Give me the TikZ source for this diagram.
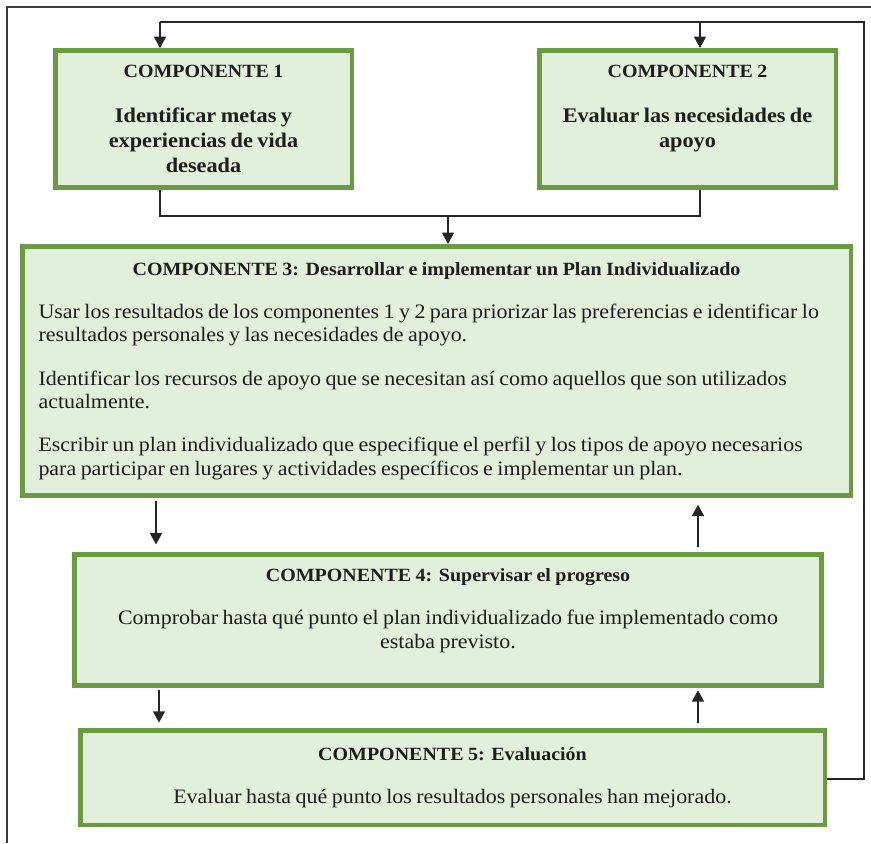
\documentclass[tikz,border=0pt]{standalone}
\usepackage{fontspec}
\setmainfont{Liberation Serif}[FakeStretch=1.07]
\usetikzlibrary{arrows.meta}
\definecolor{boxgreen}{RGB}{106,154,66}
\definecolor{boxfill}{RGB}{226,239,218}
\definecolor{framegray}{RGB}{60,60,60}
\definecolor{txt}{RGB}{30,30,30}
\newcommand\tsz{\fontsize{14}{17.5}\selectfont}
\newcommand\bsz{\fontsize{15.6}{18.8}\selectfont}
\newcommand\rsz{\fontsize{15.4}{17.5}\selectfont}
\newcommand\gap{\par\vspace{15pt}}
\tikzset{
  box/.style={draw=boxgreen, fill=boxfill, line width=3.4pt, inner sep=0pt, text=txt, align=center},
  conn/.style={draw=black!85, line width=1.1pt},
  arr/.style={conn, -{Triangle[length=8.5pt,width=9pt]}},
  frame/.style={draw=framegray, line width=1.4pt}
}
\begin{document}
\begin{tikzpicture}[x=0.75pt,y=-0.75pt]
\useasboundingbox (0,0) rectangle (871,843);
% page frame (top and left edges)
\coordinate (ftr) at (871,7);
\coordinate (ftl) at (7,7);
\coordinate (fbl) at (7,843);
\draw[frame] (ftr) -- (ftl) -- (fbl);

\node[box, minimum width=222.4pt, minimum height=103.1pt, text width=215pt] (c1) at (203.5,119)
  {\tsz\textbf{COMPONENTE 1}\gap
   \bsz\textbf{Identificar metas y\\experiencias de vida\\deseada}\par};
\node[box, minimum width=222.4pt, minimum height=103.1pt, text width=215pt] (c2) at (687.5,119)
  {\tsz\textbf{COMPONENTE 2}\gap
   \bsz\textbf{Evaluar las necesidades de\\apoyo}\\\mbox{}\par};
\node[box, minimum width=621.4pt, minimum height=187.1pt, text width=597pt, align=left] (c3) at (436.5,371)
  {{\centering\tsz\textbf{COMPONENTE 3: Desarrollar e implementar un Plan Individualizado}\par}
   \vspace{15pt}
   \rsz\mbox{Usar los resultados de los componentes 1 y 2 para priorizar las preferencias e identificar lo}\\
   \mbox{resultados personales y las necesidades de apoyo.}\gap
   \mbox{Identificar los recursos de apoyo que se necesitan así como aquellos que son utilizados}\\
   \mbox{actualmente.}\gap
   \mbox{Escribir un plan individualizado que especifique el perfil y los tipos de apoyo necesarios}\\
   \mbox{para participar en lugares y actividades específicos e implementar un plan.}\par};
\node[box, minimum width=560.6pt, minimum height=97.9pt, text width=545pt] (c4) at (448,620)
  {\tsz\textbf{COMPONENTE 4: Supervisar el progreso}\gap
   \rsz Comprobar hasta qué punto el plan individualizado fue implementado como\\
   estaba previsto.\\\mbox{}\par};
\node[box, minimum width=558.4pt, minimum height=70.9pt, text width=545pt] (c5) at (452.5,777.5)
  {\tsz\textbf{COMPONENTE 5: Evaluación}\gap
   \rsz Evaluar hasta qué punto los resultados personales han mejorado.\par};

% feedback loop from component 5 back to components 1 and 2
\coordinate (fbr) at (864,22);
\coordinate (fb1) at (160,22);
\coordinate (fb2) at (700,22);
\draw[conn] (c5.east |- 0,779) -| (fbr) -- (fb1);
\draw[arr] (fb1) -- (fb1 |- c1.north);
\draw[arr] (fb2) -- (fb2 |- c2.north);

% merge from components 1 and 2 into component 3
\coordinate (m1) at (160,216);
\coordinate (m2) at (700,216);
\coordinate (m3) at (448,216);
\draw[conn] (m1 |- c1.south) -- (m1) -- (m2) -- (m2 |- c2.south);
\draw[arr] (m3) -- (m3 |- c3.north);

% between 3 and 4
\coordinate (d34) at (156,0);
\coordinate (u43) at (698,0);
\draw[arr, shorten <=2pt, shorten >=6pt] (d34 |- c3.south) -- (d34 |- c4.north);
\draw[arr, shorten <=4pt, shorten >=5pt] (u43 |- c4.north) -- (u43 |- c3.south);
% between 4 and 5
\coordinate (d45) at (159,0);
\coordinate (u54) at (698,0);
\draw[arr, shorten <=2pt, shorten >=4pt] (d45 |- c4.south) -- (d45 |- c5.north);
\draw[arr, shorten <=4pt, shorten >=2pt] (u54 |- c5.north) -- (u54 |- c4.south);
\end{tikzpicture}
\end{document}
